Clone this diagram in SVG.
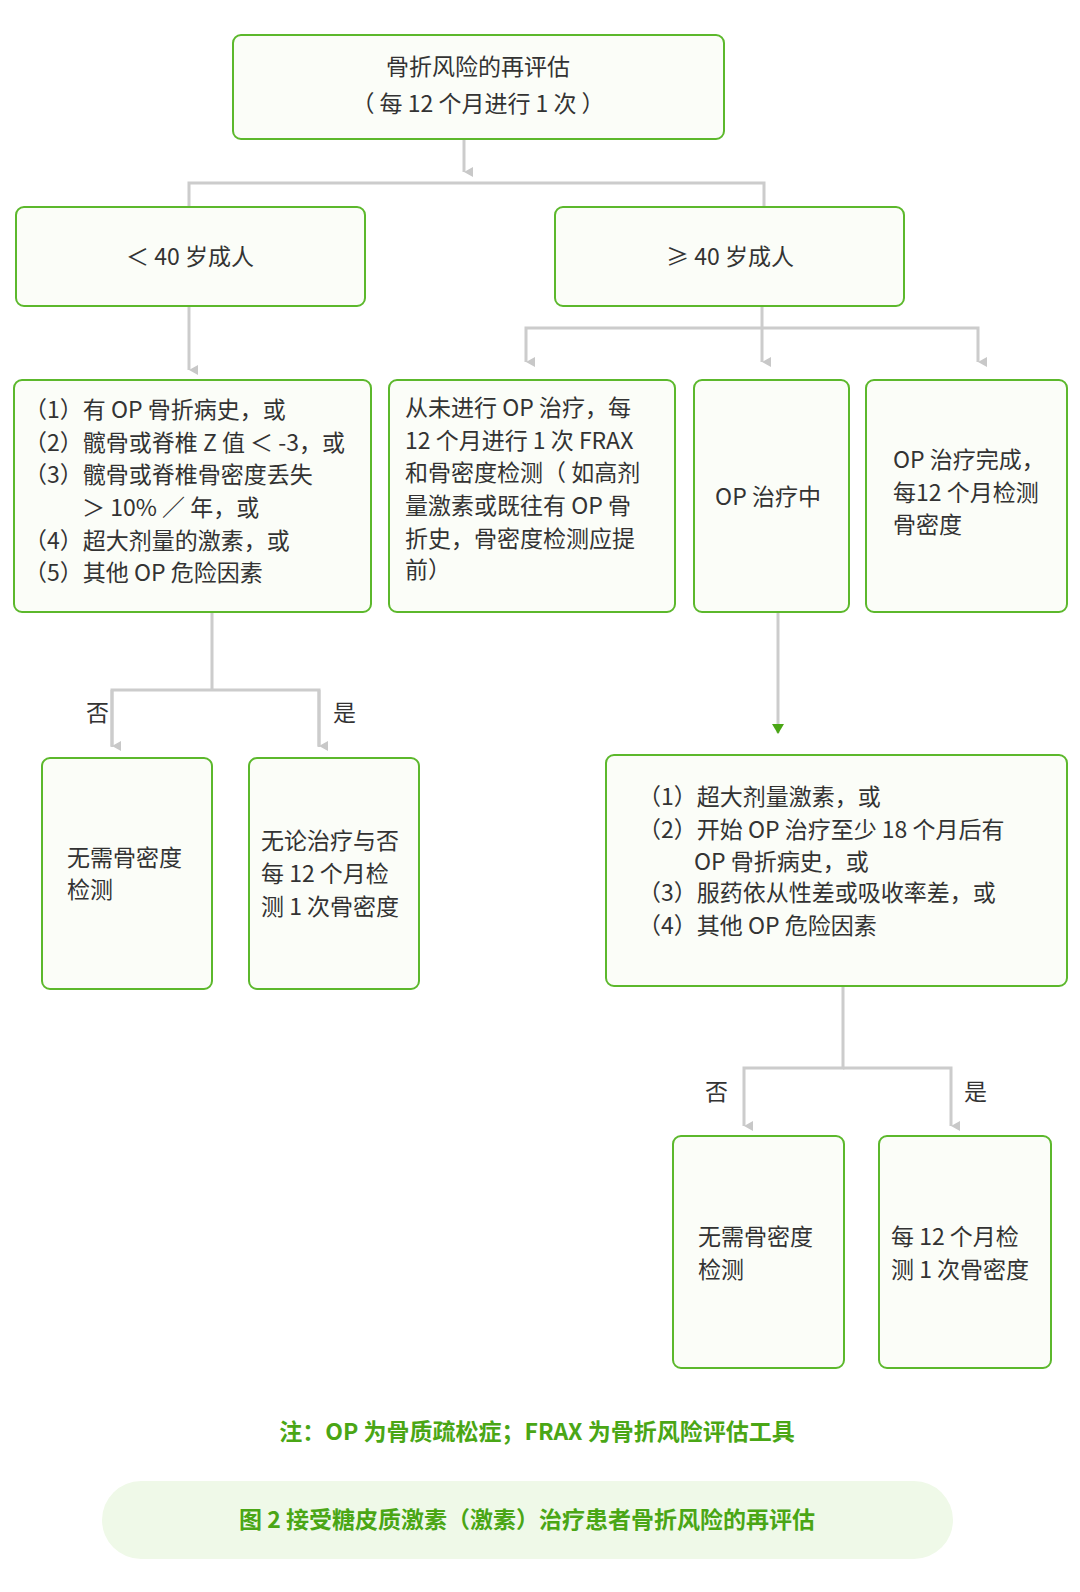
<svg xmlns="http://www.w3.org/2000/svg" width="1080" height="1592" viewBox="0 0 1080 1592">
<defs>
<marker id="ag" markerWidth="12" markerHeight="10" refX="6" refY="9" orient="auto-start-reverse" markerUnits="userSpaceOnUse" viewBox="0 0 12 10"><path d="M1 0 L11 0 L6 9 Z" fill="#c8c8c8"/></marker>
<marker id="agr" markerWidth="12" markerHeight="10" refX="6" refY="9" markerUnits="userSpaceOnUse" viewBox="0 0 12 10"><path d="M0 0 L12 0 L6 10 Z" fill="#4aa615"/></marker>
<style>
.b{fill:#fbfdf8;stroke:#5cb82c;stroke-width:2}
.t{font-family:"Noto Sans CJK SC","Noto Sans",sans-serif;font-size:23px;fill:#333}
.c{text-anchor:middle}
.l{fill:none;stroke:#cccccc;stroke-width:3}
.g{font-family:"Noto Sans CJK SC","Noto Sans",sans-serif;font-size:23px;font-weight:bold;fill:#4aa615;text-anchor:middle}
</style>
</defs>
<rect width="1080" height="1592" fill="#fff"/>
<g id="connectors">
<path class="l" d="M464 139 V172" marker-end="url(#ag)"/>
<path class="l" d="M189 207 V183 H764 V207"/>
<path class="l" d="M189 306 V370" marker-end="url(#ag)"/>
<path class="l" d="M762 306 V362" marker-end="url(#ag)"/>
<path class="l" d="M526 362 V328 H978 V362" marker-end="url(#ag)" marker-start="url(#ag)"/>
<path class="l" d="M212 612 V690 M112 747 V690 H319 V747"/>
<path class="l" d="M112 690 V746" marker-end="url(#ag)"/>
<path class="l" d="M319 690 V746" marker-end="url(#ag)"/>
<path class="l" d="M778 612 V733" marker-end="url(#agr)"/>
<path class="l" d="M843 986 V1068 H744 V1126" marker-end="url(#ag)"/>
<path class="l" d="M843 1068 H951 V1126" marker-end="url(#ag)"/>
</g>
<g id="top"><rect class="b" x="233" y="35" width="491" height="104" rx="8"/>
<text class="t c" x="478" y="75">骨折风险的再评估</text><text class="t c" x="478" y="112">（ 每 12 个月进行 1 次 ）</text></g>
<g id="lt40"><rect class="b" x="16" y="207" width="349" height="99" rx="8"/><text class="t c" x="190" y="265">＜ 40 岁成人</text></g>
<g id="ge40"><rect class="b" x="555" y="207" width="349" height="99" rx="8"/><text class="t c" x="730" y="265">≥ 40 岁成人</text></g>
<g id="A"><rect class="b" x="14" y="380" width="357" height="232" rx="8"/>
<text class="t" x="24" y="418">（1）有 OP 骨折病史，或</text>
<text class="t" x="24" y="451">（2）髋骨或脊椎 Z 值 ＜ -3，或</text>
<text class="t" x="24" y="483">（3）髋骨或脊椎骨密度丢失</text>
<text class="t" x="82" y="516">＞ 10% ／ 年，或</text>
<text class="t" x="24" y="549">（4）超大剂量的激素，或</text>
<text class="t" x="24" y="581">（5）其他 OP 危险因素</text></g>
<g id="B"><rect class="b" x="389" y="380" width="286" height="232" rx="8"/>
<text class="t" x="405" y="416">从未进行 OP 治疗，每</text>
<text class="t" x="405" y="449">12 个月进行 1 次 FRAX</text>
<text class="t" x="405" y="481">和骨密度检测（ 如高剂</text>
<text class="t" x="405" y="514">量激素或既往有 OP 骨</text>
<text class="t" x="405" y="547">折史，骨密度检测应提</text>
<text class="t" x="405" y="578">前）</text></g>
<g id="C"><rect class="b" x="694" y="380" width="155" height="232" rx="8"/><text class="t c" x="768" y="505">OP 治疗中</text></g>
<g id="D"><rect class="b" x="866" y="380" width="201" height="232" rx="8"/>
<text class="t" x="893" y="468">OP 治疗完成，</text><text class="t" x="893" y="501">每12 个月检测</text><text class="t" x="893" y="533">骨密度</text></g>
<text class="t" x="86" y="721">否</text><text class="t" x="333" y="721">是</text>
<g id="A1"><rect class="b" x="42" y="758" width="170" height="231" rx="8"/>
<text class="t" x="67" y="866">无需骨密度</text><text class="t" x="67" y="898">检测</text></g>
<g id="A2"><rect class="b" x="249" y="758" width="170" height="231" rx="8"/>
<text class="t" x="261" y="849">无论治疗与否</text><text class="t" x="261" y="882">每 12 个月检</text><text class="t" x="261" y="915">测 1 次骨密度</text></g>
<g id="E"><rect class="b" x="606" y="755" width="461" height="231" rx="8"/>
<text class="t" x="638" y="805">（1）超大剂量激素，或</text>
<text class="t" x="638" y="838">（2）开始 OP 治疗至少 18 个月后有</text>
<text class="t" x="694" y="870">OP 骨折病史，或</text>
<text class="t" x="638" y="901">（3）服药依从性差或吸收率差，或</text>
<text class="t" x="638" y="934">（4）其他 OP 危险因素</text></g>
<text class="t" x="705" y="1100">否</text><text class="t" x="964" y="1100">是</text>
<g id="E1"><rect class="b" x="673" y="1136" width="171" height="232" rx="8"/>
<text class="t" x="698" y="1245">无需骨密度</text><text class="t" x="698" y="1278">检测</text></g>
<g id="E2"><rect class="b" x="879" y="1136" width="172" height="232" rx="8"/>
<text class="t" x="891" y="1245">每 12 个月检</text><text class="t" x="891" y="1278">测 1 次骨密度</text></g>
<text class="g" x="537" y="1440">注：OP 为骨质疏松症；FRAX 为骨折风险评估工具</text>
<rect x="102" y="1481" width="851" height="78" rx="39" fill="#eff9e8"/>
<text class="g" x="527" y="1528">图 2 接受糖皮质激素（激素）治疗患者骨折风险的再评估</text>
</svg>
